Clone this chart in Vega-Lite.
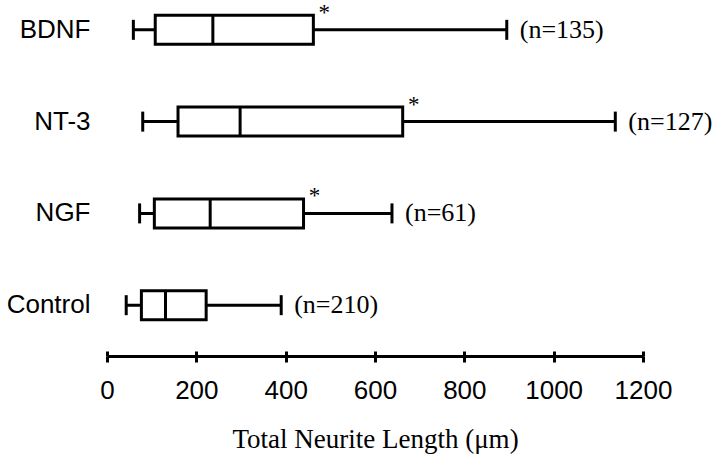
{
  "$schema": "https://vega.github.io/schema/vega-lite/v6.json",
  "width": 536,
  "height": 335,
  "autosize": {"type": "none"},
  "padding": {"left": 107, "top": 0, "right": 77, "bottom": 137},
  "background": "white",
  "config": {"view": {"stroke": null}},
  "data": {
    "values": [
      {"group": "BDNF", "min": 59, "q1": 108, "median": 237, "q3": 462, "max": 895, "label": "(n=135)", "sig": "*"},
      {"group": "NT-3", "min": 80, "q1": 159, "median": 298, "q3": 662, "max": 1138, "label": "(n=127)", "sig": "*"},
      {"group": "NGF", "min": 73, "q1": 106, "median": 231, "q3": 440, "max": 638, "label": "(n=61)", "sig": "*"},
      {"group": "Control", "min": 43, "q1": 77, "median": 131, "q3": 222, "max": 390, "label": "(n=210)", "sig": ""}
    ]
  },
  "encoding": {
    "y": {
      "field": "group",
      "type": "nominal",
      "sort": ["BDNF", "NT-3", "NGF", "Control"],
      "scale": {"paddingInner": 0.684, "paddingOuter": 0.167},
      "axis": {
        "title": null,
        "domain": false,
        "ticks": false,
        "labelFont": "Liberation Sans",
        "labelFontSize": 26,
        "labelColor": "black",
        "labelPadding": 17
      }
    }
  },
  "layer": [
    {
      "mark": {"type": "rule", "color": "black", "strokeWidth": 3},
      "encoding": {
        "x": {
          "field": "min",
          "type": "quantitative",
          "scale": {"domain": [0, 1200], "nice": false, "zero": true},
          "axis": {
            "orient": "bottom",
            "offset": 21,
            "values": [0, 200, 400, 600, 800, 1000, 1200],
            "format": "d",
            "grid": false,
            "domainColor": "black",
            "domainWidth": 3,
            "tickColor": "black",
            "tickWidth": 3,
            "tickSize": 6,
            "labelFont": "Liberation Sans",
            "labelFontSize": 26,
            "labelColor": "black",
            "labelPadding": 15,
            "labelFlush": false,
            "labelOverlap": false,
            "title": "Total Neurite Length (μm)",
            "titleFont": "Liberation Serif",
            "titleFontSize": 27,
            "titleFontWeight": "normal",
            "titleColor": "black",
            "titlePadding": 23
          }
        },
        "x2": {"field": "max"}
      }
    },
    {
      "mark": {"type": "bar", "fill": "white", "stroke": "black", "strokeWidth": 3},
      "encoding": {
        "x": {"field": "q1", "type": "quantitative", "axis": null},
        "x2": {"field": "q3"}
      }
    },
    {
      "mark": {"type": "tick", "orient": "vertical", "color": "black", "opacity": 1, "thickness": 3, "size": 29},
      "encoding": {
        "x": {
          "field": "median",
          "type": "quantitative",
          "axis": {
            "orient": "bottom",
            "offset": 21,
            "values": [0, 200, 400, 600, 800, 1000, 1200],
            "grid": false,
            "domain": false,
            "labels": false,
            "tickColor": "black",
            "tickWidth": 3,
            "tickSize": -5,
            "title": null
          }
        }
      }
    },
    {
      "mark": {"type": "tick", "orient": "vertical", "color": "black", "opacity": 1, "thickness": 3, "size": 20},
      "encoding": {"x": {"field": "min", "type": "quantitative", "axis": null}}
    },
    {
      "mark": {"type": "tick", "orient": "vertical", "color": "black", "opacity": 1, "thickness": 3, "size": 20},
      "encoding": {"x": {"field": "max", "type": "quantitative", "axis": null}}
    },
    {
      "mark": {"type": "text", "align": "left", "baseline": "middle", "dx": 13, "font": "Liberation Serif", "fontSize": 26, "color": "black"},
      "encoding": {
        "x": {"field": "max", "type": "quantitative", "axis": null},
        "text": {"field": "label"}
      }
    },
    {
      "mark": {"type": "text", "align": "center", "baseline": "middle", "dx": 11, "dy": -17, "font": "Liberation Serif", "fontSize": 23, "color": "black"},
      "encoding": {
        "x": {"field": "q3", "type": "quantitative", "axis": null},
        "text": {"field": "sig"}
      }
    }
  ],
  "resolve": {"axis": {"x": "independent"}}
}
